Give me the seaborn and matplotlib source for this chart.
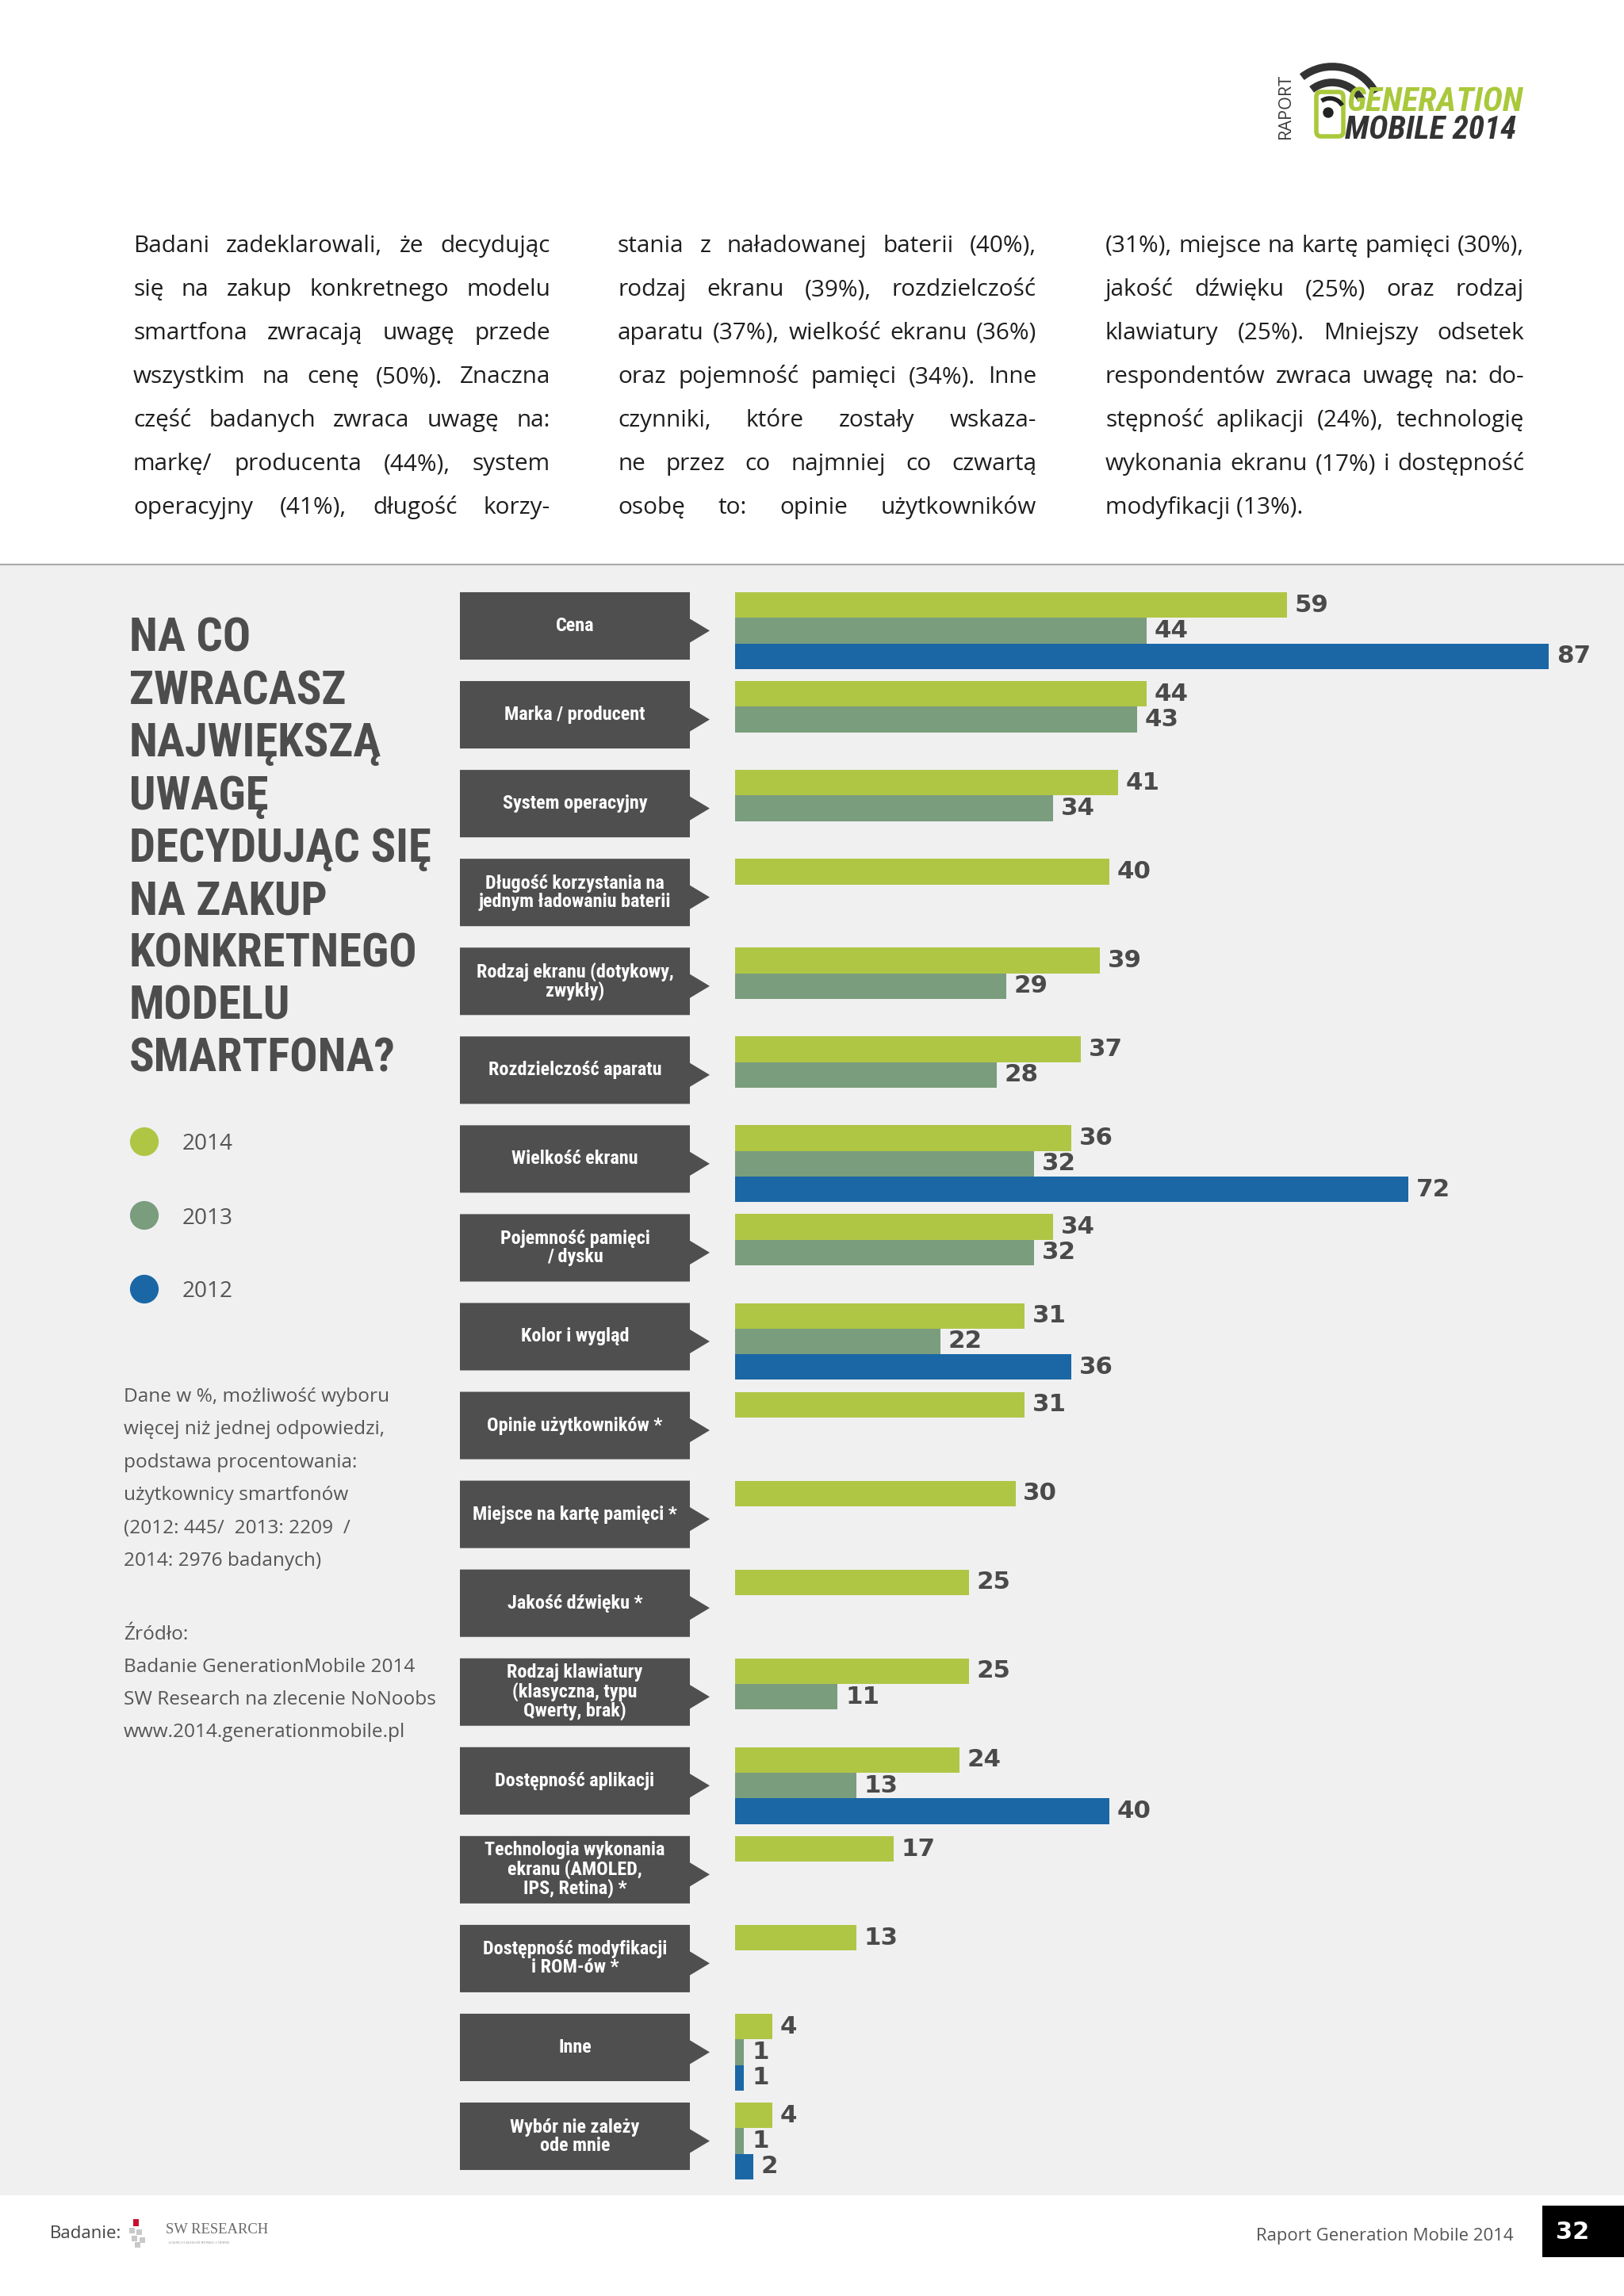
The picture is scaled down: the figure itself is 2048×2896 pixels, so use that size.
import matplotlib
matplotlib.use('Agg')
import matplotlib.pyplot as plt
import matplotlib.transforms as mtransforms
from matplotlib import font_manager as fm
from matplotlib.patches import Polygon, Rectangle, Arc, FancyBboxPatch, Circle
import pandas as pd
import seaborn as sns

# ---- chart data ----
categories = [
    "Cena", "Marka / producent", "System operacyjny",
    "Długość korzystania na\njednym ładowaniu baterii",
    "Rodzaj ekranu (dotykowy,\nzwykły)", "Rozdzielczość aparatu",
    "Wielkość ekranu", "Pojemność pamięci\n/ dysku", "Kolor i wygląd",
    "Opinie użytkowników *", "Miejsce na kartę pamięci *", "Jakość dźwięku *",
    "Rodzaj klawiatury\n(klasyczna, typu\nQwerty, brak)", "Dostępność aplikacji",
    "Technologia wykonania\nekranu (AMOLED,\nIPS, Retina) *",
    "Dostępność modyfikacji\ni ROM-ów *", "Inne", "Wybór nie zależy\node mnie",
]
val_2014 = [59, 44, 41, 40, 39, 37, 36, 34, 31, 31, 30, 25, 25, 24, 17, 13, 4, 4]
val_2013 = [44, 43, 34, None, 29, 28, 32, 32, 22, None, None, None, 11, 13, None, None, 1, 1]
val_2012 = [87, None, None, None, None, None, 72, None, 36, None, None, None, None, 40, None, None, 1, 2]
years = ["2014", "2013", "2012"]
colors = {"2014": "#afc645", "2013": "#7a9d7d", "2012": "#1b67a5"}

title_lines = ["NA CO", "ZWRACASZ", "NAJWIĘKSZĄ", "UWAGĘ", "DECYDUJĄC SIĘ",
               "NA ZAKUP", "KONKRETNEGO", "MODELU", "SMARTFONA?"]
note_lines = ["Dane w %, możliwość wyboru", "więcej niż jednej odpowiedzi,",
              "podstawa procentowania:", "użytkownicy smartfonów",
              "(2012: 445/  2013: 2209  /", "2014: 2976 badanych)"]
source_lines = ["Źródło:", "Badanie GenerationMobile 2014",
                "SW Research na zlecenie NoNoobs", "www.2014.generationmobile.pl"]
intro_cols = [
    ["Badani zadeklarowali, że decydując", "się na zakup konkretnego modelu",
     "smartfona zwracają uwagę przede", "wszystkim na cenę (50%). Znaczna",
     "część badanych zwraca uwagę na:", "markę/ producenta (44%), system",
     "operacyjny (41%), długość korzy-"],
    ["stania z naładowanej baterii (40%),", "rodzaj ekranu (39%), rozdzielczość",
     "aparatu (37%), wielkość ekranu (36%)", "oraz pojemność pamięci (34%). Inne",
     "czynniki, które zostały wskaza-", "ne przez co najmniej co czwartą",
     "osobę to: opinie użytkowników"],
    ["(31%), miejsce na kartę pamięci (30%),", "jakość dźwięku (25%) oraz rodzaj",
     "klawiatury (25%). Mniejszy odsetek", "respondentów zwraca uwagę na: do-",
     "stępność aplikacji (24%), technologię", "wykonania ekranu (17%) i dostępność",
     "modyfikacji (13%)."],
]

rows = []
for yr, vals in zip(years, [val_2014, val_2013, val_2012]):
    for cat, v in zip(categories, vals):
        if v is not None:
            rows.append({"factor": cat, "year": yr, "value": v})
df = pd.DataFrame(rows)

# ---- fonts ----
sns.set_style("white")
names = {f.name for f in fm.fontManager.ttflist}


def pick(*cands):
    for c in cands:
        if c in names:
            return c
    return "DejaVu Sans"


NARROW = pick("Roboto Condensed", "Liberation Sans Narrow", "Open Sans Condensed", "Roboto")
BODY = pick("Open Sans", "Noto Sans", "DejaVu Sans")
plt.rcParams["font.family"] = [BODY, "DejaVu Sans"]

W, H = 2048, 2896
DARK = "#4d4d4d"
fig = plt.figure(figsize=(W / 100, H / 100), dpi=100)
bg = fig.add_axes([0, 0, 1, 1])
bg.set_xlim(0, W)
bg.set_ylim(H, 0)
bg.axis("off")
renderer = fig.canvas.get_renderer()


def width_of(text, size, **kw):
    t = bg.text(0, 0, text, fontsize=size, **kw)
    w = t.get_window_extent(renderer).width
    t.remove()
    return w


def fit(text, target, base=20, **kw):
    return base * target / width_of(text, base, **kw)


# page panels
bg.add_patch(Rectangle((0, 713), W, 2769 - 713, facecolor="#f0f0f1", edgecolor="none"))
bg.plot([0, W], [712, 712], color="#a8a8a8", lw=1.5)

# ---- intro paragraph (justified) ----
par_fs = 0.95 * fit("modyfikacji (13%).", 262, family=BODY)
col_x = [(168, 694), (779, 1307), (1394, 1922)]
for ci, (lines, (xa, xb)) in enumerate(zip(intro_cols, col_x)):
    for k, line in enumerate(lines):
        y = 318 + 55 * k
        words = line.split()
        if ci == 2 and k == len(lines) - 1:
            bg.text(xa, y, line, fontsize=par_fs, family=BODY, color="#1e1e1e", va="baseline")
            continue
        ws = [width_of(w, par_fs, family=BODY) for w in words]
        gap = (xb - xa - sum(ws)) / (len(words) - 1)
        x = xa
        for w, wd in zip(words, ws):
            bg.text(x, y, w, fontsize=par_fs, family=BODY, color="#1e1e1e", va="baseline")
            x += wd + gap

# ---- logo ----
bg.text(1621, 134, "RAPORT", rotation=90, ha="center", va="center",
        fontsize=fit("RAPORT", 82, family=BODY), family=BODY, color="#3a3a3a")
for r in (62, 42):
    bg.add_patch(Arc((1680, 146), 2 * r, 2 * r, theta1=-128, theta2=-28, lw=7, color="#333333"))
bg.add_patch(FancyBboxPatch((1660, 116), 34, 56, boxstyle="round,pad=0,rounding_size=6",
                            facecolor="white", edgecolor="#a9c83b", lw=4))
bg.add_patch(Arc((1677, 142), 36, 36, theta1=-125, theta2=-30, lw=4, color="#222222"))
bg.add_patch(Circle((1675, 142), 6, color="#222222"))
bg.text(1698, 140, "GENERATION", fontsize=fit("GENERATION", 222, family=NARROW, weight="bold", style="italic"),
        family=NARROW, weight="bold", style="italic", color="#a9c83b", va="baseline")
bg.text(1696, 175, "MOBILE 2014", fontsize=fit("MOBILE 2014", 216, family=NARROW, weight="bold", style="italic"),
        family=NARROW, weight="bold", style="italic", color="#333333", va="baseline")

# ---- title, legend, notes ----
title_fs = fit("KONKRETNEGO", 364, family=NARROW, weight="bold")
for k, line in enumerate(title_lines):
    bg.text(163, 822 + 66.2 * k, line, fontsize=title_fs, family=NARROW, weight="bold",
            color=DARK, va="baseline")

leg_y = [1440, 1533, 1626]
leg_fs = fit("2014", 64, family=BODY)
bg.scatter([182] * 3, leg_y, s=680, c=[colors[y] for y in years], linewidths=0)
for y, yr in zip(leg_y, years):
    bg.text(230, y + 10.5, yr, fontsize=leg_fs, family=BODY, color="#555555", va="baseline")

note_fs = fit("SW Research na zlecenie NoNoobs", 392, family=BODY)
for k, line in enumerate(note_lines):
    bg.text(156, 1768 + 41.4 * k, line, fontsize=note_fs, family=BODY, color="#555555", va="baseline")
for k, line in enumerate(source_lines):
    bg.text(156, 2068 + 41 * k, line, fontsize=note_fs, family=BODY, color="#555555", va="baseline")

# ---- bars ----
px_unit, x0_px, xmax = 11.8, 926.5, 94
row0, pitch = 795.5, 112.06
n = len(categories)
ax = fig.add_axes([x0_px / W, 1 - (row0 + pitch * (n - 0.5)) / H,
                   xmax * px_unit / W, pitch * n / H])
ax.patch.set_alpha(0)
sns.barplot(data=df, x="value", y="factor", hue="year", order=categories, hue_order=years,
            palette=colors, orient="h", width=0.865, saturation=1, errorbar=None,
            legend=False, linewidth=0, ax=ax)
ax.set_xlim(0, xmax)
ax.set_ylim(n - 0.5, -0.5)
ax.axis("off")

val_fs = fit("59", 43, family="DejaVu Sans", weight="bold")
for cont in ax.containers:
    ax.bar_label(cont, fmt="%g", padding=7, fontsize=val_fs, fontweight="bold",
                 color="#4a4a4a", family="DejaVu Sans", clip_on=False)

# category label boxes with arrow
trans = mtransforms.blended_transform_factory(bg.transData, ax.transData)
lab_fs = fit("Dostępność aplikacji", 200, family=NARROW, weight="bold")
bx0, bx1, tip = 580, 870, 895
for i, lab in enumerate(categories):
    top, bot = i - 0.433, i + 0.326
    pts = [(bx0, top), (bx1, top), (bx1, i - 0.134), (tip, i), (bx1, i + 0.134), (bx1, bot), (bx0, bot)]
    bg.add_patch(Polygon(pts, closed=True, transform=trans, facecolor="#4f4f4f",
                         edgecolor="none", clip_on=False))
    bg.text((bx0 + bx1) / 2, (top + bot) / 2, lab, transform=trans, ha="center", va="center",
            color="white", fontsize=lab_fs, family=NARROW, weight="bold", linespacing=1.0,
            clip_on=False)

# ---- footer ----
bg.text(63, 2823, "Badanie:", fontsize=fit("Badanie:", 90, family=BODY), family=BODY,
        color="#444444", va="baseline")
bg.add_patch(Rectangle((168, 2799), 7, 9, facecolor="#c8102e", edgecolor="none"))
for (sx, sy) in [(163, 2810), (172, 2812), (166, 2820), (176, 2822), (170, 2828)]:
    bg.add_patch(Rectangle((sx, sy), 7, 7, facecolor="#c9c9c9", edgecolor="none"))
serif = pick("Liberation Serif", "DejaVu Serif")
bg.text(209, 2817, "SW RESEARCH", fontsize=fit("SW RESEARCH", 130, family=serif), family=serif,
        color="#6a6a6a", va="baseline")
bg.text(212, 2830, "AGENCJA BADAŃ RYNKU I OPINII", fontsize=3.5, family=serif,
        color="#8a8a8a", va="baseline")
bg.text(1909, 2826, "Raport Generation Mobile 2014",
        fontsize=fit("Raport Generation Mobile 2014", 323, family=BODY), family=BODY,
        color="#555555", ha="right", va="baseline")
bg.add_patch(Rectangle((1945, 2782), W - 1945, 65, facecolor="black", edgecolor="none"))
bg.text(1983, 2816, "32", fontsize=22, family="DejaVu Sans", weight="bold", color="white",
        ha="center", va="center")

fig.savefig("out.png", dpi=100, facecolor="white")
